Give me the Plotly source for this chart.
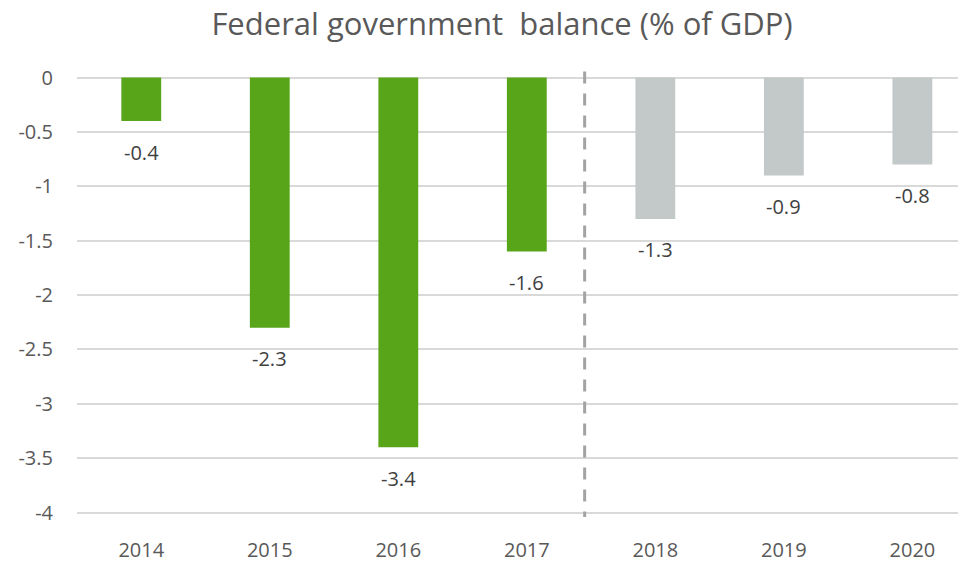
import plotly.graph_objects as go

# Federal government balance, % of GDP (2018-2020 are projections)
years = ["2014", "2015", "2016", "2017", "2018", "2019", "2020"]
balance = [-0.4, -2.3, -3.4, -1.6, -1.3, -0.9, -0.8]
is_forecast = [False, False, False, False, True, True, True]

y_ticks = [0, -0.5, -1, -1.5, -2, -2.5, -3, -3.5, -4]
y_tick_text = ["0", "-0.5", "-1", "-1.5", "-2", "-2.5", "-3", "-3.5", "-4"]

ACTUAL = "#59A519"
FORECAST = "#C3C8C8"
FONT = "Open Sans"

colors = [FORECAST if f else ACTUAL for f in is_forecast]

fig = go.Figure(
    go.Bar(
        x=list(range(len(years))),
        y=balance,
        marker=dict(color=colors, line=dict(width=0)),
        width=0.31,
        hoverinfo="skip",
    )
)

# value labels under each bar
for i, v in enumerate(balance):
    fig.add_annotation(
        x=i, y=v, xref="x", yref="y",
        text=f"{v:g}",
        showarrow=False,
        yanchor="middle",
        yshift=-31,
        font=dict(family=FONT, size=20, color="#404040"),
    )

# dashed divider between actual and projected years
fig.add_shape(
    type="line", xref="x", yref="y",
    x0=3.45, x1=3.45, y0=0.055, y1=-4.04,
    line=dict(color="#A3A3A3", width=3, dash="12px,10px"),
)

fig.update_layout(
    width=959, height=564,
    margin=dict(l=76.5, r=1, t=71, b=36),
    paper_bgcolor="white",
    plot_bgcolor="white",
    showlegend=False,
    title=dict(
        text="Federal government\u00a0 balance (% of GDP)",
        x=502 / 959, xanchor="center", xref="container",
        y=1 - 24 / 564, yanchor="middle", yref="container",
        font=dict(family=FONT, size=31, color="#595959"),
    ),
    xaxis=dict(
        range=[-0.5, 6.355],
        tickmode="array",
        tickvals=list(range(len(years))),
        ticktext=years,
        showgrid=False, zeroline=False, showline=False,
        ticks="outside", ticklen=14, tickcolor="rgba(0,0,0,0)",
        tickfont=dict(family=FONT, size=20, color="#595959"),
    ),
    yaxis=dict(
        range=[-4.05, 0.06],
        tickmode="array",
        tickvals=y_ticks,
        ticktext=y_tick_text,
        showgrid=True, gridcolor="#D9D9D9", gridwidth=1.5,
        zeroline=False, showline=False,
        ticks="outside", ticklen=19, tickcolor="rgba(0,0,0,0)",
        tickfont=dict(family=FONT, size=20, color="#595959"),
    ),
)

fig.write_html("out.html")
